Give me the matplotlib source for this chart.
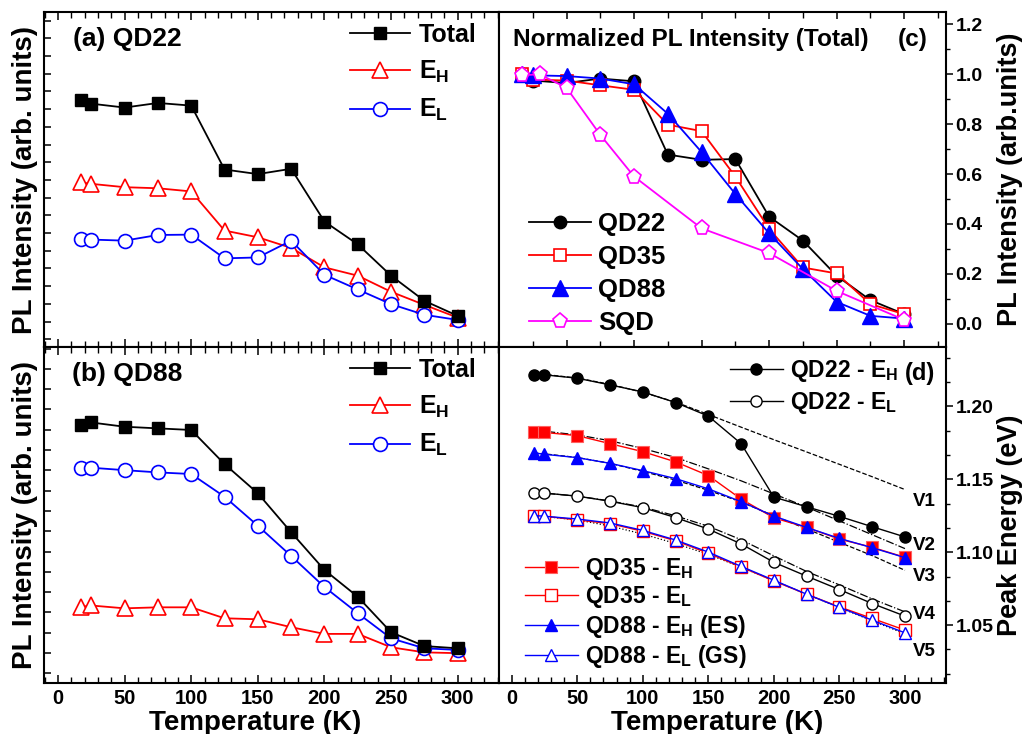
import matplotlib
matplotlib.use("Agg")
import matplotlib.pyplot as plt
from matplotlib.ticker import MultipleLocator, AutoMinorLocator, NullFormatter, FormatStrFormatter

plt.rcParams['font.family'] = ['Liberation Sans', 'DejaVu Sans']
plt.rcParams['font.weight'] = 'bold'
plt.rcParams['axes.labelweight'] = 'bold'
plt.rcParams['mathtext.fontset'] = 'custom'
plt.rcParams['mathtext.rm'] = 'Liberation Sans:bold'
plt.rcParams['mathtext.bf'] = 'Liberation Sans:bold'
plt.rcParams['mathtext.it'] = 'Liberation Sans:bold'
plt.rcParams['axes.linewidth'] = 1.5

# ---------------- data ----------------
T = [17, 25, 50, 75, 100, 125, 150, 175, 200, 225, 250, 275, 300]

# (a) QD22 (arb. units)
a_total = [13.50, 13.31, 13.09, 13.35, 13.20, 9.59, 9.33, 9.63, 6.65, 5.36, 3.59, 2.17, 1.32]
a_EH = [8.86, 8.78, 8.59, 8.53, 8.35, 6.14, 5.76, 5.16, 4.06, 3.59, 2.68, 1.94, 1.22]
a_EL = [5.67, 5.63, 5.57, 5.89, 5.91, 4.57, 4.62, 5.57, 3.64, 2.81, 1.98, 1.38, 1.09]

# (b) QD88 (arb. units)
b_total = [12.23, 12.36, 12.15, 12.07, 11.99, 10.31, 8.87, 6.95, 5.09, 3.77, 2.02, 1.34, 1.23]
b_EH = [3.27, 3.34, 3.20, 3.25, 3.25, 2.71, 2.66, 2.27, 1.94, 1.94, 1.28, 1.03, 0.99]
b_EL = [10.10, 10.13, 10.01, 9.90, 9.82, 8.70, 7.27, 5.78, 4.25, 2.96, 1.72, 1.23, 1.15]

# (c) normalized total PL
c_qd22 = [1.0, 0.975, 0.965, 0.983, 0.972, 0.678, 0.657, 0.66, 0.429, 0.333, 0.192, 0.094, 0.038]
c_qd35 = [1.0, 0.979, 0.975, 0.956, 0.938, 0.798, 0.772, 0.59, 0.38, 0.225, 0.201, 0.078, 0.038]
c_qd88 = [1.0, 0.996, 0.993, 0.983, 0.96, 0.842, 0.688, 0.52, 0.362, 0.219, 0.087, 0.031, 0.02]
T_sqd = [17, 30, 50, 75, 100, 150, 200, 250, 300]
c_sqd = [0.996, 1.0, 0.946, 0.757, 0.59, 0.382, 0.283, 0.131, 0.015]

# (d) peak energy (eV)
d_qd22_EH = [1.2217, 1.2217, 1.2194, 1.2148, 1.2100, 1.2027, 1.1934, 1.1745, 1.1378, 1.1312, 1.1246, 1.1175, 1.1105]
d_qd22_EL = [1.1406, 1.1406, 1.1385, 1.1350, 1.1306, 1.1238, 1.1159, 1.1057, 1.0931, 1.0836, 1.0744, 1.0648, 1.0562]
d_qd35_EH = [1.1828, 1.1822, 1.1800, 1.1745, 1.1690, 1.1620, 1.1526, 1.1365, 1.1236, 1.1170, 1.1090, 1.1034, 1.0965]
d_qd35_EL = [1.1252, 1.1247, 1.1222, 1.1196, 1.1144, 1.1079, 1.0993, 1.0899, 1.0803, 1.0712, 1.0625, 1.0546, 1.0466]
d_qd88_EH = [1.1682, 1.1672, 1.1649, 1.1610, 1.1560, 1.1505, 1.1435, 1.1347, 1.1248, 1.1170, 1.1095, 1.1031, 1.0963]
d_qd88_EL = [1.1252, 1.1247, 1.1228, 1.1201, 1.1150, 1.1084, 1.1001, 1.0903, 1.0808, 1.0712, 1.0622, 1.0534, 1.0447]

# fit curves V1..V5
V1 = [1.2222, 1.2220, 1.2195, 1.2152, 1.2097, 1.2030, 1.1945, 1.1858, 1.1772, 1.1688, 1.1603, 1.1518, 1.1430]
V2 = [1.1835, 1.1830, 1.1805, 1.1765, 1.1712, 1.1650, 1.1572, 1.1490, 1.1400, 1.1310, 1.1215, 1.1120, 1.1025]
V3 = [1.1680, 1.1675, 1.1650, 1.1610, 1.1555, 1.1495, 1.1425, 1.1345, 1.1250, 1.1160, 1.1068, 1.0977, 1.0876]
V4 = [1.1410, 1.1405, 1.1385, 1.1352, 1.1310, 1.1250, 1.1178, 1.1086, 1.0975, 1.0868, 1.0776, 1.0680, 1.0591]
V5 = [1.1250, 1.1245, 1.1222, 1.1180, 1.1125, 1.1060, 1.0985, 1.0898, 1.0805, 1.0712, 1.0620, 1.0530, 1.0440]
V_names = ['V1', 'V2', 'V3', 'V4', 'V5']
V_styles = ['--', '-.', '--', '-.', ':']
V_label_y = [1.132, 1.1018, 1.0803, 1.0539, 1.0289]

# ---------------- figure ----------------
W, H = 1032, 734
fig = plt.figure(figsize=(W / 100, H / 100), dpi=100)

def rect(x0, y0, x1, y1):
    return [x0 / W, (H - y1) / H, (x1 - x0) / W, (y1 - y0) / H]

ax_a = fig.add_axes(rect(44, 12, 499, 347))
ax_b = fig.add_axes(rect(44, 347, 499, 683))
ax_c = fig.add_axes(rect(499, 12, 946, 347))
ax_d = fig.add_axes(rect(499, 347, 946, 683))

RED, BLUE, MAG = '#ff0000', '#0000ff', '#ff00ff'
lw = 1.3
mew = 1.2

def eh():
    return r'E$_\mathregular{H}$'

def el():
    return r'E$_\mathregular{L}$'

legend_kw_ab = dict(loc='upper left', bbox_to_anchor=(0.673, 0.967), frameon=False, fontsize=18,
                    handlelength=2.4, handletextpad=0.35, labelspacing=0.48, borderpad=0,
                    borderaxespad=0)

# ---- panel (a) ----
ax = ax_a
ax.plot(T, a_EH, '-', color=RED, lw=lw, marker='^', ms=11, mfc='white', mec=RED, mew=mew, label=eh())
ax.plot(T, a_EL, '-', color=BLUE, lw=lw, marker='o', ms=10, mfc='white', mec=BLUE, mew=mew, label=el())
ax.plot(T, a_total, '-', color='black', lw=lw, marker='s', ms=8.5, mfc='black', mec='black', label='Total')
h, l = ax.get_legend_handles_labels()
ax.legend([h[2], h[0], h[1]], [l[2], l[0], l[1]], **legend_kw_ab)
ax.text(0.064, 0.899, '(a) QD22', transform=ax.transAxes, fontsize=19, va='baseline', ha='left')
ax.set_xlim(-10.5, 331)
ax.set_ylim(-0.44, 18.49)

# ---- panel (b) ----
ax = ax_b
ax.plot(T, b_EH, '-', color=RED, lw=lw, marker='^', ms=11, mfc='white', mec=RED, mew=mew, label=eh())
ax.plot(T, b_EL, '-', color=BLUE, lw=lw, marker='o', ms=10, mfc='white', mec=BLUE, mew=mew, label=el())
ax.plot(T, b_total, '-', color='black', lw=lw, marker='s', ms=8.5, mfc='black', mec='black', label='Total')
h, l = ax.get_legend_handles_labels()
ax.legend([h[2], h[0], h[1]], [l[2], l[0], l[1]], **legend_kw_ab)
ax.text(0.061, 0.9, '(b) QD88', transform=ax.transAxes, fontsize=19, va='baseline', ha='left')
ax.set_xlim(-10.5, 331)
ax.set_ylim(-0.48, 16.08)

for ax in (ax_a, ax_b):
    ax.yaxis.set_major_locator(MultipleLocator(1))
    ax.yaxis.set_major_formatter(NullFormatter())
    ax.tick_params(axis='y', which='both', direction='in', length=5, width=1.1, left=True, right=False)
    ax.xaxis.set_major_locator(MultipleLocator(50))
    ax.xaxis.set_minor_locator(MultipleLocator(10))
    ax.tick_params(axis='x', which='major', direction='in', length=6, width=1.1, top=True, bottom=True)
    ax.tick_params(axis='x', which='minor', direction='in', length=4, width=1.0, top=True, bottom=True)
    ax.set_ylabel('PL Intensity (arb. units)', fontsize=20)
    ax.yaxis.set_label_coords(-0.014, 0.5)

ax_a.tick_params(axis='x', labelbottom=False)
ax_b.tick_params(axis='x', labelsize=14.5, pad=4.5)

# ---- panel (c) ----
ax = ax_c
ax.plot(T, c_qd22, '-', color='black', lw=lw, marker='o', ms=9, mfc='black', mec='black', label='QD22')
ax.plot(T, c_qd35, '-', color=RED, lw=lw, marker='s', ms=8.5, mfc='white', mec=RED, mew=mew, label='QD35')
ax.plot(T, c_qd88, '-', color=BLUE, lw=lw, marker='^', ms=11, mfc=BLUE, mec=BLUE, label='QD88')
ax.plot(T_sqd, c_sqd, '-', color=MAG, lw=lw, marker='p', ms=11, mfc='white', mec=MAG, mew=mew, label='SQD')
ax.legend(loc='lower left', bbox_to_anchor=(0.067, 0.035), frameon=False, fontsize=18.5,
          handlelength=2.4, handletextpad=0.3, labelspacing=0.35, borderpad=0, borderaxespad=0)
ax.text(0.031, 0.899, 'Normalized PL Intensity (Total)', transform=ax.transAxes, fontsize=17.6,
        va='baseline', ha='left')
ax.text(0.892, 0.899, '(c)', transform=ax.transAxes, fontsize=17.6, va='baseline', ha='left')
ax.set_xlim(0, 331)
ax.set_ylim(-0.094, 1.25)
ax.yaxis.set_major_locator(MultipleLocator(0.2))
ax.yaxis.set_minor_locator(MultipleLocator(0.1))
ax.yaxis.tick_right()
ax.tick_params(axis='y', which='major', direction='out', length=5, width=1.1, labelsize=14, pad=2,
               left=False, right=True)
ax.tick_params(axis='y', which='minor', direction='out', length=3, width=1.0, left=False, right=True)
ax.xaxis.set_major_locator(MultipleLocator(50))
ax.xaxis.set_minor_locator(MultipleLocator(25))
ax.tick_params(axis='x', which='major', direction='in', length=5, width=1.1, top=True, bottom=True,
               labelbottom=False)
ax.tick_params(axis='x', which='minor', direction='in', length=4, width=1.0, top=True, bottom=True)
ax.yaxis.set_label_position('right')
ax.set_ylabel('PL Intensity (arb.units)', fontsize=19.5)
ax.yaxis.set_label_coords(1.113, 0.5)

# ---- panel (d) ----
ax = ax_d
for vals, ls in zip([V1, V2, V3, V4, V5], V_styles):
    ax.plot(T, vals, ls=ls, color='black', lw=0.9)
for name, ly in zip(V_names, V_label_y):
    ax.text(306, ly, name, fontsize=13.5, va='baseline', ha='left')

p1, = ax.plot(T, d_qd22_EH, '-', color='black', lw=1.0, marker='o', ms=8, mfc='black', mec='black',
              label='QD22 - ' + eh())
p2, = ax.plot(T, d_qd22_EL, '-', color='black', lw=1.0, marker='o', ms=8, mfc='white', mec='black',
              mew=1.0, label='QD22 - ' + el())
p3, = ax.plot(T, d_qd35_EH, '-', color=RED, lw=1.0, marker='s', ms=8.5, mfc=RED, mec='#ff6060',
              mew=0.8, label='QD35 - ' + eh())
p4, = ax.plot(T, d_qd35_EL, '-', color=RED, lw=1.0, marker='s', ms=8.5, mfc='white', mec=RED,
              mew=1.0, label='QD35 - ' + el())
p5, = ax.plot(T, d_qd88_EH, '-', color=BLUE, lw=1.0, marker='^', ms=9, mfc=BLUE, mec=BLUE,
              label='QD88 - ' + eh() + ' (ES)')
p6, = ax.plot(T, d_qd88_EL, '-', color=BLUE, lw=1.0, marker='^', ms=9, mfc='white', mec=BLUE,
              mew=1.0, label='QD88 - ' + el() + ' (GS)')
leg1 = ax.legend([p1, p2], [p1.get_label(), p2.get_label()], loc='upper left',
                 bbox_to_anchor=(0.517, 0.966), frameon=False, fontsize=16.5, handlelength=2.3,
                 handletextpad=0.3, labelspacing=0.23, borderpad=0, borderaxespad=0)
ax.add_artist(leg1)
ax.legend([p3, p4, p5, p6], [p.get_label() for p in (p3, p4, p5, p6)], loc='lower left',
          bbox_to_anchor=(0.058, 0.039), frameon=False, fontsize=16.5, handlelength=2.3,
          handletextpad=0.3, labelspacing=0.12, borderpad=0, borderaxespad=0)
ax.text(0.908, 0.902, '(d)', transform=ax.transAxes, fontsize=17, va='baseline', ha='left')

ax.set_xlim(-9.7, 331.3)
ax.set_ylim(1.0103, 1.2408)
ax.yaxis.set_major_locator(MultipleLocator(0.05))
ax.yaxis.set_minor_locator(AutoMinorLocator(3))
ax.yaxis.tick_right()
ax.yaxis.set_major_formatter(FormatStrFormatter('%.2f'))
ax.tick_params(axis='y', which='major', direction='out', length=5, width=1.1, labelsize=14, pad=2,
               left=False, right=True)
ax.tick_params(axis='y', which='minor', direction='out', length=3, width=1.0, left=False, right=True)
ax.xaxis.set_major_locator(MultipleLocator(50))
ax.xaxis.set_minor_locator(MultipleLocator(10))
ax.tick_params(axis='x', which='major', direction='in', length=6, width=1.1, labelsize=14.5, pad=4.5,
               top=False, bottom=True)
ax.tick_params(axis='x', which='minor', direction='in', length=4, width=1.0, top=False, bottom=True)
ax.yaxis.set_label_position('right')
ax.set_ylabel('Peak Energy (eV)', fontsize=19.5)
ax.yaxis.set_label_coords(1.113, 0.47)

# x labels
fig.text(255 / W, 4.5 / H, 'Temperature (K)', fontsize=20, ha='center', va='baseline')
fig.text(717.5 / W, 4.5 / H, 'Temperature (K)', fontsize=20, ha='center', va='baseline')

fig.savefig('out.png', dpi=100)
